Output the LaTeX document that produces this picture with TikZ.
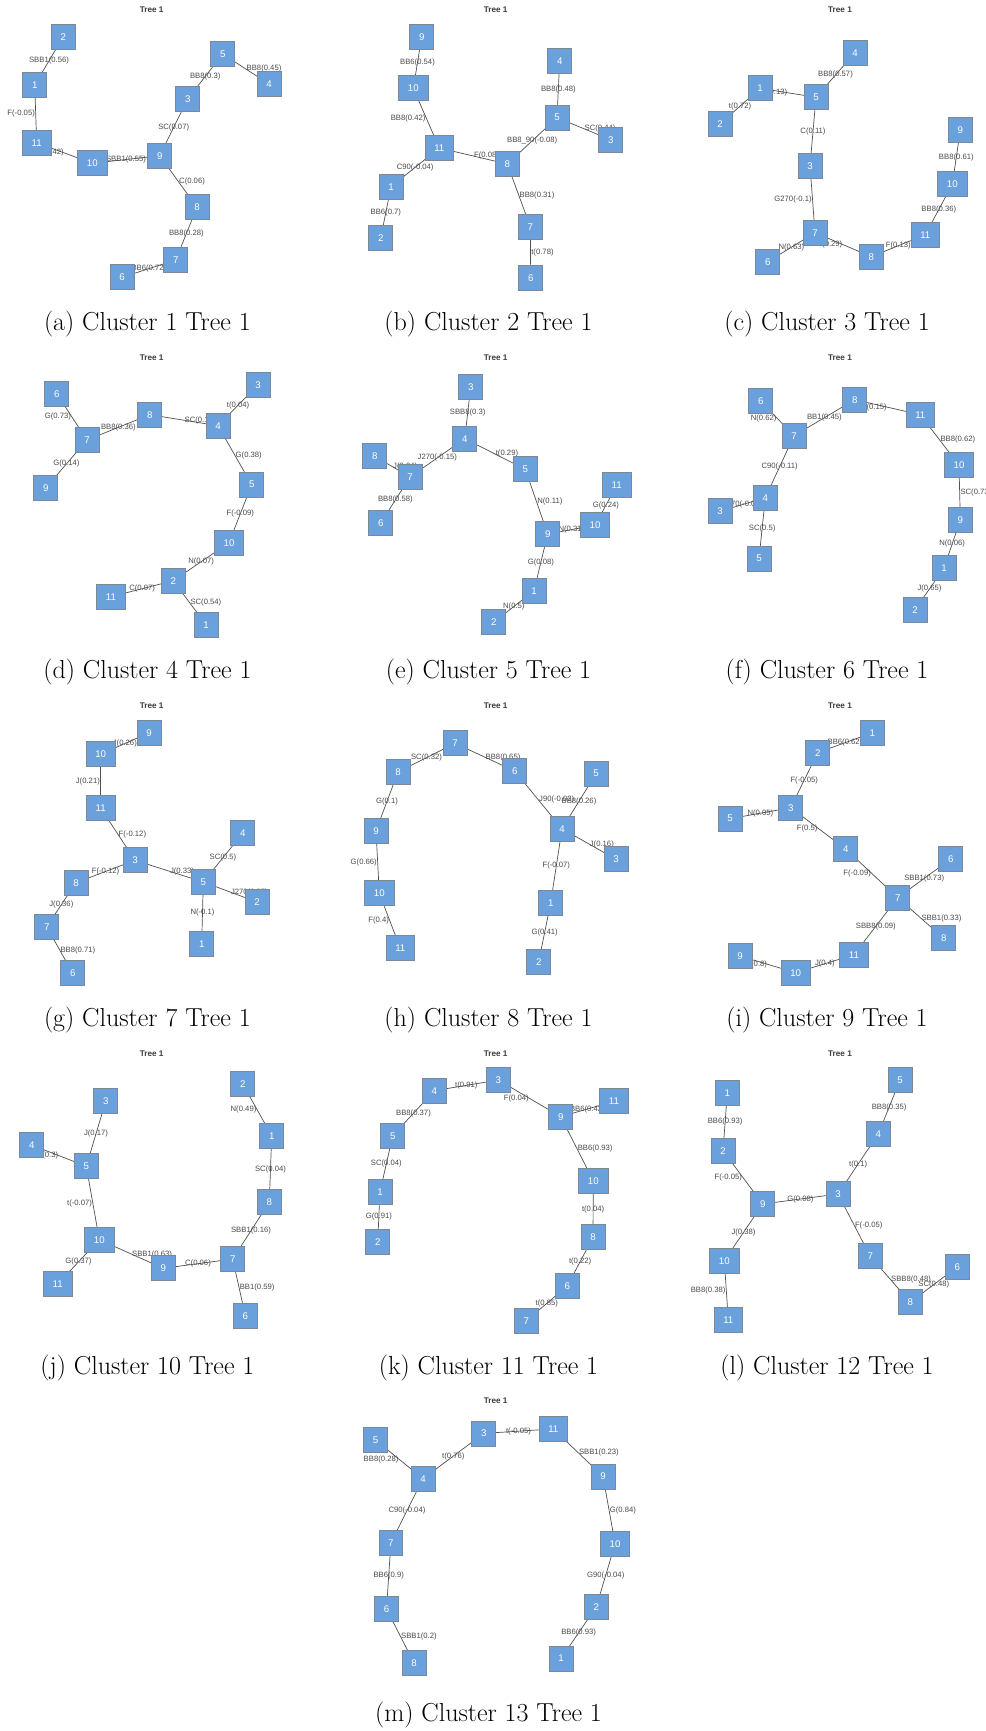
\documentclass[tikz,border=0pt]{standalone}
\usepackage{fontspec}
\newfontfamily\sansfam{Liberation Sans}
\usetikzlibrary{backgrounds}
\definecolor{boxblue}{RGB}{106,160,219}
\definecolor{boxline}{RGB}{125,135,150}
\definecolor{edgegray}{RGB}{80,80,80}
\definecolor{labgray}{RGB}{75,75,75}
\definecolor{ttlgray}{RGB}{60,60,60}
\tikzset{
  tnode/.style={rectangle,fill=boxblue,draw=boxline,line width=0.7pt,text=white,
    font=\sansfam\fontsize{9.7}{11}\selectfont,minimum height=25pt,inner xsep=9.2pt,inner ysep=0pt},
  elab/.style={font=\sansfam\fontsize{7.7}{9}\selectfont,text=labgray,inner sep=0.5pt},
  tline/.style={draw=edgegray,line width=0.7pt},
  ttl/.style={font=\sansfam\bfseries\fontsize{8.2}{10}\selectfont,text=ttlgray},
  subcap/.style={font=\fontsize{26}{30}\selectfont},
}

\begin{document}
\begin{tikzpicture}[x=1pt,y=-1pt]
  \useasboundingbox (0,0) rectangle (985,1731);
  \begin{scope}[on background layer]
    \fill[white] (0,0) rectangle (985,1731);
  \end{scope}
  % (a)
  \begin{scope}[shift={(0,0)}]
    \node[ttl] (ta) at (151.7,10) {Tree 1};
    \foreach \n/\x/\y in {1/34.7/85, 2/63.3/36.7, 3/187.7/99, 4/269/84, 5/222.7/54, 6/122/277.3,
        7/175.7/260, 8/197/207.3, 9/159.7/155.7, 10/92.3/163.3, 11/36.7/142.7}
      \node[tnode] (a\n) at (\x,\y) {\n};
    \begin{scope}[on background layer]
      \foreach \src/\dst/\lab/\anc in {2/1/SBB1(0.56)/center, 1/11/F(-0.05)/east, 11/10/J(0.42)/east,
          10/9/SBB1(0.55)/center, 9/3/SC(0.07)/center, 3/5/BB8(0.3)/center, 5/4/BB8(0.45)/west,
          9/8/C(0.06)/west, 8/7/BB8(0.28)/center, 7/6/BB6(0.72)/center}
        \draw[tline] (a\src.center) -- node[elab,anchor=\anc] {\lab} (a\dst.center);
    \end{scope}
    \node[subcap] (ca) at (147.4,324) {(a) Cluster 1 Tree 1};
  \end{scope}
  % (b)
  \begin{scope}[shift={(330,0)}]
    \node[ttl] (tb) at (165.7,10) {Tree 1};
    \foreach \n/\x/\y in {1/61/186.7, 2/50.7/238, 3/280.7/139.7, 4/229.7/60.7, 5/227/117.7, 6/200.7/277.7,
        7/200.3/226.7, 8/177.3/164, 9/91.7/36.7, 10/83.3/88.3, 11/109.3/148}
      \node[tnode] (b\n) at (\x,\y) {\n};
    \begin{scope}[on background layer]
      \foreach \src/\dst/\lab/\anc in {9/10/BB6(0.54)/center, 10/11/BB8(0.42)/east, 11/1/C90(-0.04)/center,
          1/2/BB6(0.7)/center, 11/8/F(0.08)/west, 8/5/BB8\_90(-0.08)/center, 5/4/BB8(0.48)/center,
          5/3/SC(0.44)/west, 8/7/BB8(0.31)/west, 7/6/t(0.78)/west}
        \draw[tline] (b\src.center) -- node[elab,anchor=\anc] {\lab} (b\dst.center);
    \end{scope}
    \node[subcap] (cb) at (158.5,324) {(b) Cluster 2 Tree 1};
  \end{scope}
  % (c)
  \begin{scope}[shift={(660,0)}]
    \node[ttl] (tc) at (180,10) {Tree 1};
    \foreach \n/\x/\y in {1/100/88.3, 2/60/124, 3/150/165.7, 4/195/52.7, 5/156/97.3, 6/107.7/261.7,
        7/155/232.7, 8/211.3/256.7, 9/300.3/130, 10/292.3/184.3, 11/265.3/234.7}
      \node[tnode] (c\n) at (\x,\y) {\n};
    \begin{scope}[on background layer]
      \foreach \src/\dst/\lab/\anc in {5/4/BB8(0.57)/center, 1/5/J(0.13)/east, 1/2/t(0.72)/center,
          5/3/C(0.11)/center, 3/7/G270(-0.1)/east, 7/6/N(0.63)/center, 7/8/SBB1(0.29)/east,
          8/11/F(0.13)/center, 11/10/BB8(0.36)/center, 10/9/BB8(0.61)/center}
        \draw[tline] (c\src.center) -- node[elab,anchor=\anc] {\lab} (c\dst.center);
    \end{scope}
    \node[subcap] (cc) at (167,324) {(c) Cluster 3 Tree 1};
  \end{scope}
  % (d)
  \begin{scope}[shift={(0,348)}]
    \node[ttl] (td) at (151.7,10) {Tree 1};
    \foreach \n/\x/\y in {1/206/276.7, 2/173.3/232.7, 3/258/36.7, 4/218/77.7, 5/251.7/136.7, 6/56.7/45.7,
        7/87/92, 8/149.7/66.7, 9/45.7/140, 10/229/194.7, 11/111/248.7}
      \node[tnode] (d\n) at (\x,\y) {\n};
    \begin{scope}[on background layer]
      \foreach \src/\dst/\lab/\anc in {6/7/G(0.73)/east, 7/9/G(0.14)/center, 7/8/BB8(0.36)/center,
          8/4/SC(0.13)/west, 4/3/t(0.04)/center, 4/5/G(0.38)/west, 5/10/F(-0.09)/center,
          10/2/N(0.07)/center, 2/11/C(0.07)/center, 2/1/SC(0.54)/west}
        \draw[tline] (d\src.center) -- node[elab,anchor=\anc] {\lab} (d\dst.center);
    \end{scope}
    \node[subcap] (cd) at (147.4,324) {(d) Cluster 4 Tree 1};
  \end{scope}
  % (e)
  \begin{scope}[shift={(330,348)}]
    \node[ttl] (te) at (165.7,10) {Tree 1};
    \foreach \n/\x/\y in {1/204/242.7, 2/163.7/274.3, 3/140.7/39, 4/134.7/90.7, 5/195.3/121.3, 6/50.7/175,
        7/80/129, 8/44.7/108.3, 9/217.7/186, 10/265/177.3, 11/286.7/137.3}
      \node[tnode] (e\n) at (\x,\y) {\n};
    \begin{scope}[on background layer]
      \foreach \src/\dst/\lab/\anc in {3/4/SBB8(0.3)/center, 4/7/J270(-0.15)/center, 8/7/J(0.04)/west,
          7/6/BB8(0.58)/center, 4/5/t(0.29)/west, 5/9/N(0.11)/west, 9/10/N(0.31)/center,
          10/11/G(0.24)/center, 9/1/G(0.08)/center, 1/2/N(0.5)/center}
        \draw[tline] (e\src.center) -- node[elab,anchor=\anc] {\lab} (e\dst.center);
    \end{scope}
    \node[subcap] (ce) at (158.5,324) {(e) Cluster 5 Tree 1};
  \end{scope}
  % (f)
  \begin{scope}[shift={(660,348)}]
    \node[ttl] (tf) at (180,10) {Tree 1};
    \foreach \n/\x/\y in {1/284/220, 2/255/261.7, 3/60/163.3, 4/105.3/149.7, 5/99/210.7, 6/100.7/53.3,
        7/134/87.7, 8/194.7/51.7, 9/300.3/172, 10/299/117.3, 11/260.3/66.7}
      \node[tnode] (f\n) at (\x,\y) {\n};
    \begin{scope}[on background layer]
      \foreach \src/\dst/\lab/\anc in {6/7/N(0.62)/east, 7/8/BB1(0.45)/center, 8/11/J(0.15)/east,
          11/10/BB8(0.62)/west, 10/9/SC(0.73)/west, 9/1/N(0.06)/center, 1/2/J(0.65)/center,
          7/4/C90(-0.11)/center, 4/3/J270(-0.08)/center, 4/5/SC(0.5)/center}
        \draw[tline] (f\src.center) -- node[elab,anchor=\anc] {\lab} (f\dst.center);
    \end{scope}
    \node[subcap] (cf) at (167,324) {(f) Cluster 6 Tree 1};
  \end{scope}
  % (g)
  \begin{scope}[shift={(0,696)}]
    \node[ttl] (tg) at (151.7,10) {Tree 1};
    \foreach \n/\x/\y in {1/201.7/247.7, 2/257/206, 3/135/164.3, 4/242.7/137.3, 5/203.3/186, 6/72.7/277.3,
        7/46.7/230.7, 8/76/186.7, 9/149/36.7, 10/100.7/58.3, 11/100.7/112}
      \node[tnode] (g\n) at (\x,\y) {\n};
    \begin{scope}[on background layer]
      \foreach \src/\dst/\lab/\anc in {10/9/J(0.26)/center, 10/11/J(0.21)/east, 11/3/F(-0.12)/west,
          3/8/F(-0.12)/center, 8/7/J(0.36)/center, 7/6/BB8(0.71)/west, 3/5/J(0.33)/west,
          5/4/SC(0.5)/center, 5/2/J270(0.05)/west, 5/1/N(-0.1)/center}
        \draw[tline] (g\src.center) -- node[elab,anchor=\anc] {\lab} (g\dst.center);
    \end{scope}
    \node[subcap] (cg) at (147.4,324) {(g) Cluster 7 Tree 1};
  \end{scope}
  % (h)
  \begin{scope}[shift={(330,696)}]
    \node[ttl] (th) at (165.7,10) {Tree 1};
    \foreach \n/\x/\y in {1/220.7/206.7, 2/208.7/265.7, 3/286/163.3, 4/232/132.7, 5/266/77.7, 6/184.7/75,
        7/125/47.3, 8/68/76, 9/46/134.7, 10/49.3/197.3, 11/70.3/252.3}
      \node[tnode] (h\n) at (\x,\y) {\n};
    \begin{scope}[on background layer]
      \foreach \src/\dst/\lab/\anc in {8/7/SC(0.32)/center, 7/6/BB8(0.65)/west, 8/9/G(0.1)/center,
          9/10/G(0.66)/east, 10/11/F(0.4)/east, 6/4/J90(-0.02)/west, 4/5/BB8(0.26)/center,
          4/3/J(0.16)/west, 4/1/F(-0.07)/center, 1/2/G(0.41)/center}
        \draw[tline] (h\src.center) -- node[elab,anchor=\anc] {\lab} (h\dst.center);
    \end{scope}
    \node[subcap] (ch) at (158.5,324) {(h) Cluster 8 Tree 1};
  \end{scope}
  % (i)
  \begin{scope}[shift={(660,696)}]
    \node[ttl] (ti) at (180,10) {Tree 1};
    \foreach \n/\x/\y in {1/212.3/36.7, 2/157.7/56.7, 3/130.7/111.7, 4/185.7/153, 5/70/122.7, 6/290.7/163,
        7/237.7/201.7, 8/283.7/242.3, 9/80/260, 10/135.7/276.7, 11/194/258.7}
      \node[tnode] (i\n) at (\x,\y) {\n};
    \begin{scope}[on background layer]
      \foreach \src/\dst/\lab/\anc in {2/1/BB6(0.62)/center, 2/3/F(-0.05)/center, 3/5/N(0.05)/center,
          3/4/F(0.5)/east, 4/7/F(-0.09)/east, 7/6/SBB1(0.73)/center, 7/8/SBB1(0.33)/west,
          7/11/SBB8(0.09)/center, 11/10/J(0.4)/center, 10/9/J(0.8)/east}
        \draw[tline] (i\src.center) -- node[elab,anchor=\anc] {\lab} (i\dst.center);
    \end{scope}
    \node[subcap] (ci) at (167,324) {(i) Cluster 9 Tree 1};
  \end{scope}
  % (j)
  \begin{scope}[shift={(0,1044)}]
    \node[ttl] (tj) at (151.7,10) {Tree 1};
    \foreach \n/\x/\y in {1/271.7/91.7, 2/242.7/40, 3/105.7/57.3, 4/31.7/101, 5/86.3/122.3, 6/245.3/271.7,
        7/232.7/215, 8/269.3/158.3, 9/163.3/224.3, 10/99.3/195.7, 11/57.7/240}
      \node[tnode] (j\n) at (\x,\y) {\n};
    \begin{scope}[on background layer]
      \foreach \src/\dst/\lab/\anc in {2/1/N(0.49)/east, 1/8/SC(0.04)/center, 8/7/SBB1(0.16)/center,
          7/6/BB1(0.59)/west, 9/7/C(0.06)/center, 10/9/SBB1(0.63)/west, 10/11/G(0.37)/center,
          10/5/t(-0.07)/east, 5/3/J(0.17)/center, 5/4/J(0.3)/east}
        \draw[tline] (j\src.center) -- node[elab,anchor=\anc] {\lab} (j\dst.center);
    \end{scope}
    \node[subcap] (cj) at (147.4,324) {(j) Cluster 10 Tree 1};
  \end{scope}
  % (k)
  \begin{scope}[shift={(330,1044)}]
    \node[ttl] (tk) at (165.7,10) {Tree 1};
    \foreach \n/\x/\y in {1/50/147.7, 2/47.7/198, 3/168.3/36, 4/104.3/46.7, 5/62.7/91.7, 6/237.3/242,
        7/196.3/276.7, 8/263/193.3, 9/230.7/72.7, 10/263.3/136.7, 11/284/57.3}
      \node[tnode] (k\n) at (\x,\y) {\n};
    \begin{scope}[on background layer]
      \foreach \src/\dst/\lab/\anc in {4/3/t(0.91)/center, 3/9/F(0.04)/east, 4/5/BB8(0.37)/center,
          5/1/SC(0.04)/center, 1/2/G(0.91)/center, 9/11/BB6(0.42)/center, 9/10/BB6(0.93)/west,
          10/8/t(0.04)/center, 8/6/t(0.22)/center, 6/7/t(0.85)/center}
        \draw[tline] (k\src.center) -- node[elab,anchor=\anc] {\lab} (k\dst.center);
    \end{scope}
    \node[subcap] (ck) at (158.5,324) {(k) Cluster 11 Tree 1};
  \end{scope}
  % (l)
  \begin{scope}[shift={(660,1044)}]
    \node[ttl] (tl) at (180,10) {Tree 1};
    \foreach \n/\x/\y in {1/67.3/49, 2/63/106.7, 3/178/150, 4/218.3/90, 5/240/36, 6/297.3/222.7,
        7/210.3/212.3, 8/250.3/258.3, 9/102.7/160, 10/64.3/216.7, 11/68.3/276}
      \node[tnode] (l\n) at (\x,\y) {\n};
    \begin{scope}[on background layer]
      \foreach \src/\dst/\lab/\anc in {1/2/BB6(0.93)/center, 2/9/F(-0.05)/east, 9/10/J(0.38)/center,
          10/11/BB8(0.38)/east, 9/3/G(0.08)/center, 3/4/t(0.1)/center, 4/5/BB8(0.35)/center,
          3/7/F(-0.05)/west, 7/8/SBB8(0.48)/west, 8/6/SC(0.48)/center}
        \draw[tline] (l\src.center) -- node[elab,anchor=\anc] {\lab} (l\dst.center);
    \end{scope}
    \node[subcap] (cl) at (167,324) {(l) Cluster 12 Tree 1};
  \end{scope}
  % (m)
  \begin{scope}[shift={(330,1391)}]
    \node[ttl] (tm) at (165.7,10) {Tree 1};
    \foreach \n/\x/\y in {1/231/267.6, 2/266.3/215.8, 3/153.7/42.4, 4/93/87.7, 5/45.5/49, 6/56.5/218,
        7/60.9/151.7, 8/84.1/272.1, 9/273/85.4, 10/285.1/152.8, 11/223.3/37.9}
      \node[tnode] (m\n) at (\x,\y) {\n};
    \begin{scope}[on background layer]
      \foreach \src/\dst/\lab/\anc in {5/4/BB8(0.28)/east, 4/3/t(0.76)/center, 3/11/t(-0.05)/center,
          11/9/SBB1(0.23)/west, 9/10/G(0.84)/west, 10/2/G90(-0.04)/center, 2/1/BB6(0.93)/center,
          4/7/C90(-0.04)/center, 7/6/BB6(0.9)/center, 6/8/SBB1(0.2)/west}
        \draw[tline] (m\src.center) -- node[elab,anchor=\anc] {\lab} (m\dst.center);
    \end{scope}
    \node[subcap] (cm) at (158.5,324) {(m) Cluster 13 Tree 1};
  \end{scope}
\end{tikzpicture}
\end{document}
